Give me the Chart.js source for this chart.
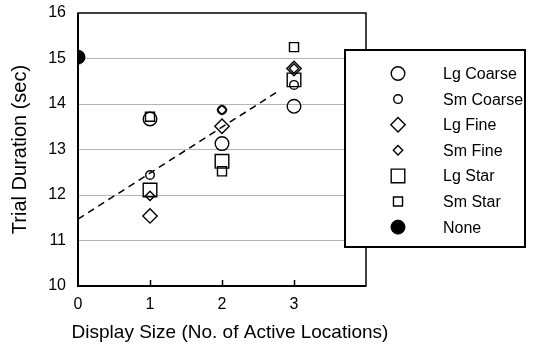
<!DOCTYPE html>
<html>
<head>
<meta charset="utf-8">
<script src="https://cdn.jsdelivr.net/npm/chart.js@4.4.1/dist/chart.umd.min.js"></script>
<style>
  html, body { margin: 0; padding: 0; background: #fff; }
  #wrap { width: 533px; height: 345px; }
</style>
</head>
<body>
<div id="wrap"><canvas id="chart"></canvas></div>
<script>
// values
const displaySizes = [1, 2, 3]
const lgCoarse = [13.67, 13.13, 13.95]
const smCoarse = [12.44, 13.87, 14.42]
const lgFine   = [11.54, 13.51, 14.78]
const smFine   = [11.98, 13.87, 14.78]
const lgStar   = [12.11, 12.74, 14.53]
const smStar   = [13.72, 12.52, 15.25]
const noneX = [0]
const noneY = [15.03]
const trendX = [0, 2.8]
const trendY = [11.47, 14.3]
const xTicks = [0, 1, 2, 3]
const yTicks = [10, 11, 12, 13, 14, 15, 16]
const xTitle = 'Display Size (No. of Active Locations)'

const FONT = 'Arial, "Liberation Sans", sans-serif'

function pts(xs, ys){
    return xs.map((x, i) => ({x: x, y: ys[i]}))
}

function markerSet(label, ys, style, radius){
    return {
        label: label,
        data: pts(displaySizes, ys),
        showLine: false,
        pointStyle: style,
        pointRadius: radius,
        pointHoverRadius: radius,
        pointBorderColor: '#000',
        pointBackgroundColor: 'rgba(0,0,0,0)',
        pointBorderWidth: 1.4
    }
}

const datasets = [
    markerSet('Lg Coarse', lgCoarse, 'circle', 6.8),
    markerSet('Sm Coarse', smCoarse, 'circle', 4.3),
    markerSet('Lg Fine', lgFine, 'rectRot', 7.2),
    markerSet('Sm Fine', smFine, 'rectRot', 4.7),
    markerSet('Lg Star', lgStar, 'rect', 9.6),
    markerSet('Sm Star', smStar, 'rect', 6.4),
    {
        label: 'None',
        data: pts(noneX, noneY),
        showLine: false,
        pointStyle: 'circle',
        pointRadius: 7,
        pointBorderColor: '#000',
        pointBackgroundColor: '#000',
        pointBorderWidth: 1
    },
    {
        label: 'trend',
        type: 'line',
        data: pts(trendX, trendY),
        borderColor: '#000',
        borderWidth: 1.5,
        borderDash: [7, 5],
        pointRadius: 0,
        fill: false
    }
]

// frame, inner x ticks, x title and the boxed legend
const framePlugin = {
    id: 'framePlugin',
    afterDraw(chart){
        const ctx = chart.ctx
        const a = chart.chartArea
        const xs = chart.scales.x
        ctx.save()
        ctx.strokeStyle = '#000'
        ctx.lineWidth = 1.5
        ctx.strokeRect(a.left, a.top, a.right - a.left, a.bottom - a.top)
        ctx.lineWidth = 2
        ctx.beginPath()
        ctx.moveTo(a.left, a.top)
        ctx.lineTo(a.left, a.bottom)
        ctx.lineTo(a.right, a.bottom)
        ctx.stroke()
        ctx.lineWidth = 1.5
        xTicks.slice(1).forEach(v => {
            const px = Math.round(xs.getPixelForValue(v)) + 0.5
            ctx.beginPath()
            ctx.moveTo(px, a.bottom)
            ctx.lineTo(px, a.bottom - 6)
            ctx.stroke()
        })

        ctx.fillStyle = '#000'
        ctx.font = '19px ' + FONT
        ctx.textAlign = 'center'
        ctx.textBaseline = 'middle'
        ctx.fillText(xTitle, 230, 333)

        // legend box
        const bx = 345, by = 50, bw = 180, bh = 197
        ctx.fillStyle = '#fff'
        ctx.fillRect(bx, by, bw, bh)
        ctx.lineWidth = 2
        ctx.strokeRect(bx, by, bw, bh)
        ctx.font = '16px ' + FONT
        ctx.textAlign = 'left'
        datasets.slice(0, 7).forEach((ds, i) => {
            const y = 73.5 + i * 25.6
            ctx.strokeStyle = '#000'
            ctx.fillStyle = ds.pointBackgroundColor
            ctx.lineWidth = ds.pointBorderWidth
            Chart.helpers.drawPoint(ctx, {
                pointStyle: ds.pointStyle,
                radius: ds.pointRadius,
                rotation: 0,
                borderWidth: ds.pointBorderWidth
            }, 398, y)
            ctx.fillStyle = '#000'
            ctx.fillText(ds.label, 443, y + 1)
        })
        ctx.restore()
    }
}

new Chart(document.getElementById('chart'), {
    type: 'scatter',
    data: {datasets: datasets},
    plugins: [framePlugin],
    options: {
        responsive: true,
        maintainAspectRatio: false,
        animation: false,
        layout: {padding: {left: 0, right: 167, top: 13, bottom: 0}},
        plugins: {legend: {display: false}, tooltip: {enabled: false}},
        scales: {
            x: {
                type: 'linear',
                min: 0,
                max: 4,
                afterFit: s => { s.height = 59; s.paddingLeft = 0; s.paddingRight = 0 },
                afterBuildTicks: s => { s.ticks = xTicks.map(v => ({value: v})) },
                grid: {display: false, drawTicks: false},
                border: {display: false},
                ticks: {color: '#000', font: {family: FONT, size: 16}, padding: 9}
            },
            y: {
                min: 10,
                max: 16,
                afterFit: s => { s.width = 78; s.paddingTop = 0; s.paddingBottom = 0 },
                afterBuildTicks: s => { s.ticks = yTicks.map(v => ({value: v})) },
                grid: {
                    drawTicks: false,
                    lineWidth: 1,
                    color: c => (c.tick && (c.tick.value === 10 || c.tick.value === 16)) ? 'rgba(0,0,0,0)' : '#b4b4b4'
                },
                border: {display: false},
                ticks: {color: '#000', font: {family: FONT, size: 16}, padding: 12},
                title: {
                    display: true,
                    text: 'Trial Duration (sec)',
                    color: '#000',
                    font: {family: FONT, size: 20},
                    padding: {top: 8, bottom: 0}
                }
            }
        }
    }
})
</script>
</body>
</html>
